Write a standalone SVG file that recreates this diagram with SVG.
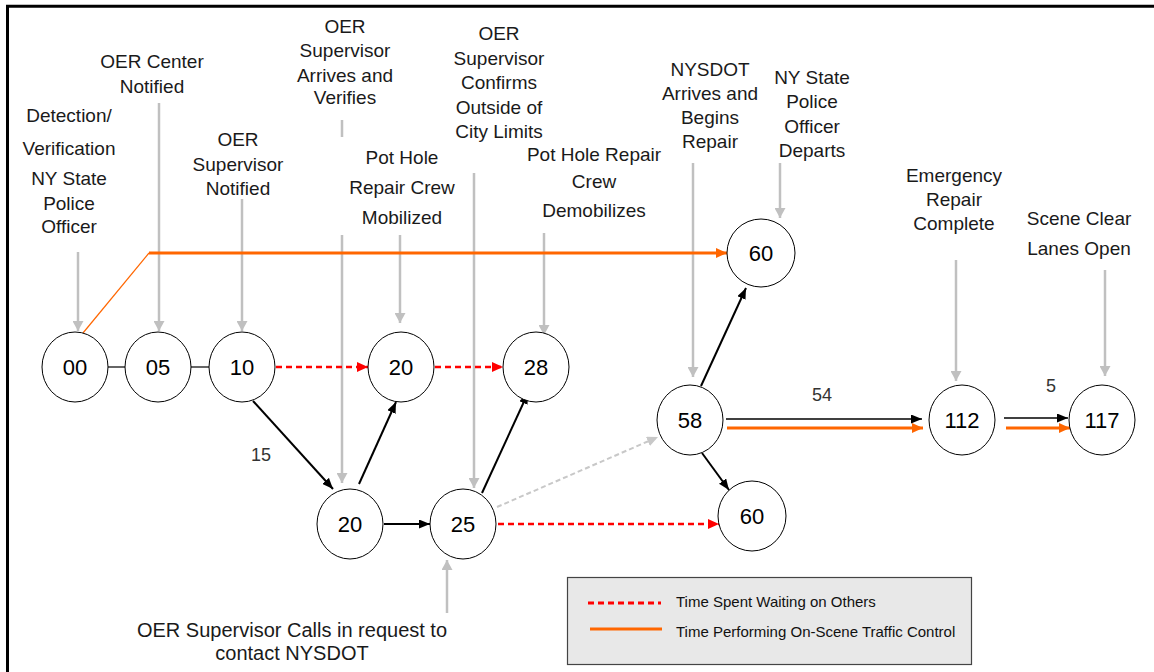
<svg xmlns="http://www.w3.org/2000/svg" width="1154" height="672" viewBox="0 0 1154 672">
<style>
.node ellipse{fill:#fff;stroke:#000;stroke-width:1}
.node text{font-family:"Liberation Sans",Arial,sans-serif;font-size:22px;fill:#000;text-anchor:middle}
.lbl{font-family:"Liberation Sans",Arial,sans-serif;font-size:19px;fill:#1a1a1a;text-anchor:middle}
.num{font-family:"Liberation Sans",Arial,sans-serif;font-size:18px;fill:#333;text-anchor:middle}
.leg{font-family:"Liberation Sans",Arial,sans-serif;font-size:15px;fill:#111}
.gray{stroke:#c0c0c0;stroke-width:2.5;fill:none;marker-end:url(#ag)}
.blk{stroke:#000;stroke-width:2;fill:none;marker-end:url(#ab)}
.thin{stroke:#000;stroke-width:1.2;fill:none}
.red{stroke:#ff0000;stroke-width:2.5;stroke-dasharray:6,4;fill:none;marker-end:url(#ar)}
.org{stroke:#ff6600;stroke-width:3;fill:none;marker-end:url(#ao)}
</style>
<defs>
<marker id="ab" markerUnits="userSpaceOnUse" markerWidth="11" markerHeight="9" refX="11" refY="4.5" orient="auto"><path d="M0,0 L11,4.5 L0,9 z" fill="#000"/></marker>
<marker id="ag" markerUnits="userSpaceOnUse" markerWidth="10" markerHeight="11" refX="10" refY="5.5" orient="auto"><path d="M0,0 L10,5.5 L0,11 z" fill="#c0c0c0"/></marker>
<marker id="ar" markerUnits="userSpaceOnUse" markerWidth="11" markerHeight="10" refX="11" refY="5" orient="auto"><path d="M0,0 L11,5 L0,10 z" fill="#ff0000"/></marker>
<marker id="ao" markerUnits="userSpaceOnUse" markerWidth="11" markerHeight="10" refX="11" refY="5" orient="auto"><path d="M0,0 L11,5 L0,10 z" fill="#ff6600"/></marker>
<marker id="agl" markerUnits="userSpaceOnUse" markerWidth="11" markerHeight="10" refX="11" refY="5" orient="auto"><path d="M0,0 L11,5 L0,10 z" fill="#c8c8c8"/></marker>
</defs>
<rect width="1154" height="672" fill="#fff"/>
<path d="M7.5,672 V6.3 H1154" stroke="#000" stroke-width="3" fill="none"/>

<g id="labels">
<text class="lbl" x="152" y="68">OER Center</text>
<text class="lbl" x="152" y="93">Notified</text>
<text class="lbl" x="69" y="122">Detection/</text>
<text class="lbl" x="69" y="155">Verification</text>
<text class="lbl" x="69" y="185">NY State</text>
<text class="lbl" x="69" y="210">Police</text>
<text class="lbl" x="69" y="233">Officer</text>
<text class="lbl" x="238" y="146">OER</text>
<text class="lbl" x="238" y="171">Supervisor</text>
<text class="lbl" x="238" y="195">Notified</text>
<text class="lbl" x="345" y="33">OER</text>
<text class="lbl" x="345" y="57">Supervisor</text>
<text class="lbl" x="345" y="82">Arrives and</text>
<text class="lbl" x="345" y="104">Verifies</text>
<text class="lbl" x="402" y="164">Pot Hole</text>
<text class="lbl" x="402" y="194">Repair Crew</text>
<text class="lbl" x="402" y="224">Mobilized</text>
<text class="lbl" x="499" y="40">OER</text>
<text class="lbl" x="499" y="65">Supervisor</text>
<text class="lbl" x="499" y="89">Confirms</text>
<text class="lbl" x="499" y="114">Outside of</text>
<text class="lbl" x="499" y="138">City Limits</text>
<text class="lbl" x="594" y="161">Pot Hole Repair</text>
<text class="lbl" x="594" y="188">Crew</text>
<text class="lbl" x="594" y="217">Demobilizes</text>
<text class="lbl" x="710" y="76">NYSDOT</text>
<text class="lbl" x="710" y="100">Arrives and</text>
<text class="lbl" x="710" y="124">Begins</text>
<text class="lbl" x="710" y="148">Repair</text>
<text class="lbl" x="812" y="84">NY State</text>
<text class="lbl" x="812" y="108">Police</text>
<text class="lbl" x="812" y="133">Officer</text>
<text class="lbl" x="812" y="157">Departs</text>
<text class="lbl" x="954" y="182">Emergency</text>
<text class="lbl" x="954" y="206">Repair</text>
<text class="lbl" x="954" y="230">Complete</text>
<text class="lbl" x="1079" y="225">Scene Clear</text>
<text class="lbl" x="1079" y="255">Lanes Open</text>
<text class="lbl" x="292" y="637" style="font-size:20px">OER Supervisor Calls in request to</text>
<text class="lbl" x="292" y="660" style="font-size:20px">contact NYSDOT</text>
<text class="num" x="261" y="461">15</text>
<text class="num" x="822" y="401">54</text>
<text class="num" x="1051" y="392">5</text>
</g>

<g id="connectors">
<path class="gray" d="M78,252 V331"/>
<path class="gray" d="M159,103 V331"/>
<path class="gray" d="M242,199 V331"/>
<path class="gray" d="M342,120 V137 M342,235 V483"/>
<path class="gray" d="M400,235 V323"/>
<path class="gray" d="M474,173 V488"/>
<path class="gray" d="M544,233 V335"/>
<path class="gray" d="M693,163 V377"/>
<path class="gray" d="M780,163 V218"/>
<path class="gray" d="M956,260 V381"/>
<path class="gray" d="M1105,270 V376"/>
<path class="gray" d="M447,613 V560"/>
<path d="M83,333 L149,253" stroke="#ff6600" stroke-width="1.2" fill="none"/>
<path class="org" d="M149,253 H727"/>
<path class="thin" d="M108,367 H125"/>
<path class="thin" d="M191,367 H209"/>
<path class="red" d="M276,367 H368"/>
<path class="red" d="M435,367 H503"/>
<path class="blk" d="M253,401 L333,489"/>
<path class="blk" d="M359,484 L396,402"/>
<path class="blk" d="M384,524 H430"/>
<path class="blk" d="M482,493 L528,393"/>
<path d="M497,507 L658,437" stroke="#c8c8c8" stroke-width="2" stroke-dasharray="5,3" fill="none" marker-end="url(#agl)"/>
<path class="red" d="M498,524 H719"/>
<path class="blk" d="M701,386 L746,288"/>
<path class="blk" d="M702,453 L729,490"/>
<path d="M726,419 H922" stroke="#000" stroke-width="1.5" fill="none" marker-end="url(#ab)"/>
<path class="org" d="M727,428 H923"/>
<path d="M1004,418 H1068" stroke="#000" stroke-width="1.5" fill="none" marker-end="url(#ab)"/>
<path class="org" d="M1006,428 H1070"/>
</g>

<g id="n00" class="node"><ellipse cx="75" cy="367" rx="33" ry="35"/><text x="75" y="375">00</text></g>
<g id="n05" class="node"><ellipse cx="158" cy="367" rx="33" ry="35"/><text x="158" y="375">05</text></g>
<g id="n10" class="node"><ellipse cx="242" cy="367" rx="33" ry="35"/><text x="242" y="375">10</text></g>
<g id="n20a" class="node"><ellipse cx="401" cy="367" rx="33" ry="35"/><text x="401" y="375">20</text></g>
<g id="n28" class="node"><ellipse cx="536" cy="367" rx="33" ry="35"/><text x="536" y="375">28</text></g>
<g id="n20b" class="node"><ellipse cx="350" cy="524" rx="33" ry="35"/><text x="350" y="532">20</text></g>
<g id="n25" class="node"><ellipse cx="463" cy="524" rx="33" ry="35"/><text x="463" y="532">25</text></g>
<g id="n58" class="node"><ellipse cx="690" cy="420" rx="33" ry="35"/><text x="690" y="428">58</text></g>
<g id="n60a" class="node"><ellipse cx="761" cy="253" rx="34" ry="34"/><text x="761" y="261">60</text></g>
<g id="n60b" class="node"><ellipse cx="752" cy="516" rx="34" ry="35"/><text x="752" y="524">60</text></g>
<g id="n112" class="node"><ellipse cx="962" cy="420" rx="33" ry="35"/><text x="962" y="428">112</text></g>
<g id="n117" class="node"><ellipse cx="1102" cy="420" rx="33" ry="35"/><text x="1102" y="428">117</text></g>

<g id="legend">
<rect x="567.5" y="577.5" width="404" height="87" fill="#e8e8e8" stroke="#444" stroke-width="1.2"/>
<path d="M588,603 H661" stroke="#ff0000" stroke-width="3" stroke-dasharray="6,4" fill="none"/>
<path d="M590,629 H662" stroke="#ff6600" stroke-width="3" fill="none"/>
<text class="leg" x="676" y="607">Time Spent Waiting on Others</text>
<text class="leg" x="676" y="637">Time Performing On-Scene Traffic Control</text>
</g>
</svg>
